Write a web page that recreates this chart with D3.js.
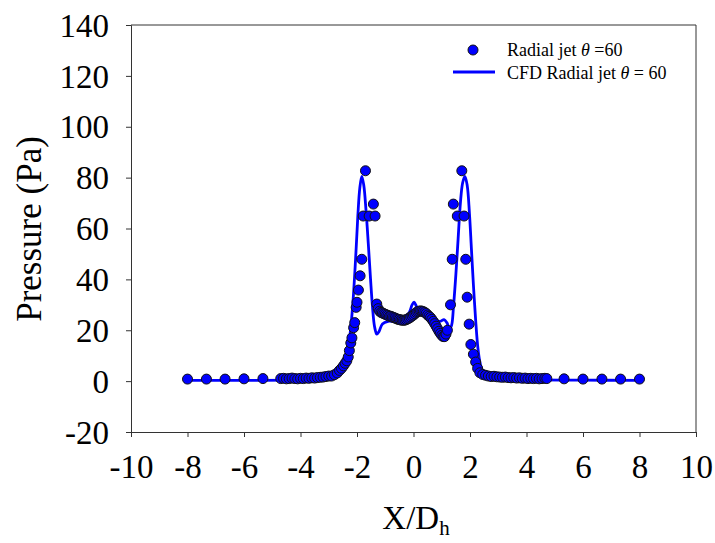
<!DOCTYPE html>
<html>
<head>
<meta charset="utf-8">
<script src="https://cdn.jsdelivr.net/npm/d3@7"></script>
<style>
  body { margin: 0; background: #fff; }
  text { font-family: "Liberation Serif", "Times New Roman", serif; fill: #000; }
</style>
</head>
<body>
<div id="chart"></div>
<script>
// experimental points (X/Dh, Pa)
const expX = [-8, -7.33, -6.67, -6, -5.33,
  -4.7, -4.6, -4.5, -4.4, -4.3, -4.2, -4.1, -4.0, -3.9, -3.8, -3.7, -3.6, -3.5, -3.4, -3.3, -3.2, -3.1, -3.0,
  -2.9, -2.8, -2.7, -2.62, -2.55, -2.48, -2.42, -2.36, -2.31, -2.27, -2.22, -2.18, -2.12, -2.08, -2.03, -2.0,
  -1.95, -1.89, -1.83, -1.78, -1.7, -1.57, -1.42, -1.36, -1.3,
  -1.25, -1.2, -1.15, -1.1, -1.05, -1.0, -0.95, -0.9, -0.85, -0.8, -0.75, -0.7, -0.65, -0.6, -0.55, -0.5,
  -0.45, -0.4, -0.35, -0.3, -0.25, -0.2, -0.15, -0.1, -0.05, 0, 0.05, 0.1, 0.15, 0.2, 0.25, 0.3, 0.35,
  0.4, 0.45, 0.5, 0.55, 0.6, 0.65, 0.7, 0.75, 0.8, 0.85, 0.9, 0.95, 1.0, 1.05, 1.1, 1.15, 1.2,
  1.31, 1.37, 1.41, 1.55, 1.71, 1.79, 1.85, 1.9, 1.97, 2.03, 2.12, 2.2, 2.27, 2.35,
  2.45, 2.55, 2.65, 2.75, 2.85, 2.95, 3.05, 3.15, 3.25, 3.35, 3.45, 3.55, 3.65, 3.75, 3.85, 3.95, 4.05,
  4.15, 4.25, 4.35, 4.45, 4.55, 4.65, 4.72,
  5.33, 6, 6.67, 7.33, 8];
const expY = [0.8, 0.8, 0.8, 0.9, 1.0,
  1.0, 1.1, 0.9, 1.0, 1.2, 1.0, 0.9, 1.1, 1.0, 1.2, 1.1, 1.3, 1.2, 1.4, 1.5, 1.6, 1.8, 2.0,
  2.0, 2.5, 3.2, 4.2, 5.0, 6.0, 7.0, 8.0, 9.5, 12, 15, 17, 21, 23, 29, 31,
  35.8, 41.4, 47.9, 64.9, 82.7, 64.9, 69.6, 64.9, 30.3,
  28.5, 27.5, 27, 26.8, 26.5, 26.3, 26, 25.8, 25.5, 25.5, 25.2, 25, 24.8, 24.5, 24.3, 24.2,
  24, 24, 23.9, 24, 24.2, 24.5, 24.8, 25.2, 25.6, 26, 26.5, 27, 27.3, 27.5, 27.6, 27.5, 27.3,
  27, 26.6, 26, 25.5, 25, 24.3, 23.5, 22.6, 21.6, 20.6, 19.6, 18.8, 18, 17.5, 17.5, 18.5, 20,
  30, 47.9, 69.6, 64.9, 82.7, 64.9, 47.9, 33, 22.4, 14.4, 10.6, 7.5, 5, 3.3,
  2.6, 2.3, 2.0, 1.8, 1.9, 1.7, 1.6, 1.5, 1.6, 1.4, 1.3, 1.4, 1.2, 1.3, 1.1, 1.2, 1.0,
  1.1, 1.0, 1.1, 0.9, 1.0, 1.1, 1.0,
  0.9, 0.8, 0.8, 0.8, 0.8];

// CFD curve
const cfdX = [-8, -6, -4, -3.2, -2.8, -2.6, -2.45, -2.35, -2.25, -2.15, -2.05, -1.97, -1.9, -1.83, -1.76,
  -1.68, -1.6, -1.52, -1.45, -1.38, -1.3, -1.22, -1.1, -0.9, -0.6, -0.35, -0.15, -0.05, 0.02, 0.12, 0.25,
  0.5, 0.8, 0.95, 1.08, 1.18, 1.28, 1.35, 1.42, 1.5, 1.58, 1.66, 1.74, 1.82, 1.9, 1.98, 2.05, 2.12, 2.2,
  2.28, 2.36, 2.45, 2.6, 3, 4, 6, 8];
const cfdY = [0.3, 0.3, 0.5, 0.8, 1.5, 3, 6, 10, 18, 30, 48, 65, 76, 80.5, 77,
  67, 54, 40, 29, 21.5, 18.5, 19.5, 22.5, 23.5, 23.5, 24.5, 27, 30, 31, 29, 26.5,
  25, 24, 23.5, 24.2, 23, 20.5, 22, 30, 42, 56, 70, 78, 80.5, 77, 66, 52, 38, 24,
  13, 7, 3.5, 1.8, 1, 0.6, 0.4, 0.3];

const xTicks = [-10, -8, -6, -4, -2, 0, 2, 4, 6, 8, 10];
const yTicks = [-20, 0, 20, 40, 60, 80, 100, 120, 140];

const W = 715, H = 543;
const margin = {top: 25, right: 19, bottom: 111, left: 131};
const width = W - margin.left - margin.right,
      height = H - margin.top - margin.bottom;

const svg = d3.select("#chart").append("svg")
    .attr("width", W)
    .attr("height", H);

const g = svg.append("g")
    .attr("transform", "translate(" + margin.left + "," + margin.top + ")");

const x = d3.scaleLinear().domain([-10, 10]).range([0, width]);
const y = d3.scaleLinear().domain([-20, 140]).range([height, 0]);

// frame top / right
g.append("path")
    .attr("d", "M0,0H" + width + "V" + height)
    .attr("fill", "none")
    .attr("stroke", "#333")
    .attr("stroke-width", 1);

const fmt = d => String(d);  // plain hyphen, not unicode minus

const xAxis = g.append("g")
    .attr("transform", "translate(0," + height + ")")
    .call(d3.axisBottom(x).tickValues(xTicks).tickSizeOuter(0).tickSize(5).tickPadding(10).tickFormat(fmt));
const yAxis = g.append("g")
    .call(d3.axisLeft(y).tickValues(yTicks).tickSizeOuter(0).tickSize(5).tickPadding(17).tickFormat(fmt));

[xAxis, yAxis].forEach(a => {
  a.selectAll("path, line").attr("stroke", "#333");
  a.selectAll("text").style("font-size", "33px")
    .style("font-family", '"Liberation Serif", serif').attr("fill", "#000");
});
xAxis.selectAll("text").attr("dy", "0.93em");
yAxis.selectAll("text").attr("dy", "0.34em");

// CFD line
const line = d3.line()
    .x((d, i) => x(cfdX[i]))
    .y((d, i) => y(cfdY[i]))
    .curve(d3.curveCatmullRom.alpha(0.5));

g.append("path")
    .datum(cfdY)
    .attr("fill", "none")
    .attr("stroke", "#0000ff")
    .attr("stroke-width", 2.8)
    .attr("d", line);

// experimental points
g.selectAll(".pt")
    .data(expX)
    .enter().append("circle")
    .attr("class", "pt")
    .attr("cx", d => x(d))
    .attr("cy", (d, i) => y(expY[i]))
    .attr("r", 5)
    .attr("fill", "#0000ff")
    .attr("stroke", "#111")
    .attr("stroke-width", 1);

// axis titles
svg.append("text")
    .attr("transform", "translate(41,229) rotate(-90)")
    .attr("text-anchor", "middle")
    .style("font-size", "35px")
    .text("Pressure (Pa)");

const xt = svg.append("text")
    .attr("x", 416)
    .attr("y", 529)
    .attr("text-anchor", "middle")
    .style("font-size", "33px");
xt.append("tspan").text("X/D");
xt.append("tspan").attr("dy", 6).style("font-size", "21px").text("h");

// legend
const lg = svg.append("g");
lg.append("circle")
    .attr("cx", 473).attr("cy", 50).attr("r", 5)
    .attr("fill", "#0000ff").attr("stroke", "#111");
lg.append("line")
    .attr("x1", 453).attr("x2", 495).attr("y1", 72).attr("y2", 72)
    .attr("stroke", "#0000ff").attr("stroke-width", 2.8);

const t1 = lg.append("text").attr("x", 507).attr("y", 56).style("font-size", "18px");
t1.append("tspan").text("Radial jet ");
t1.append("tspan").style("font-style", "italic").text("θ");
t1.append("tspan").text(" =60");

const t2 = lg.append("text").attr("x", 507).attr("y", 79).style("font-size", "18px");
t2.append("tspan").text("CFD Radial jet ");
t2.append("tspan").style("font-style", "italic").text("θ");
t2.append("tspan").text(" = 60");
</script>
</body>
</html>
